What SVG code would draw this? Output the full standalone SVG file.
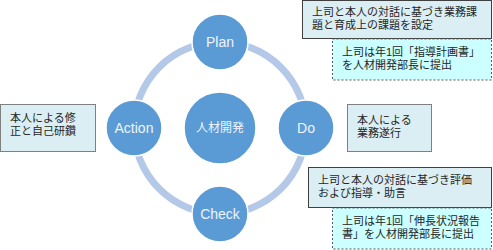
<svg xmlns="http://www.w3.org/2000/svg" width="493" height="250" viewBox="0 0 493 250">
<style>
.node circle{fill:#5b9bd5;stroke:#ffffff;stroke-width:1.5}
.lbl{font-family:"Liberation Sans","Noto Sans",sans-serif;font-size:14px;fill:#eef4fb;text-anchor:middle}
.clbl{font-family:"Liberation Sans","Noto Sans CJK JP",sans-serif;font-size:12px;fill:#eef4fb;text-anchor:middle}
.box{fill:#daeef3;stroke:#404040;stroke-width:1}
.gbox{fill:#daeef3;stroke:#808080;stroke-width:1}
.dbox{fill:#ccffff;stroke:#595959;stroke-width:1;stroke-dasharray:2 2}
.t{font-family:"Liberation Sans","Noto Sans CJK JP",sans-serif;font-size:11px;fill:#262626}
</style>
<g id="connectors">
<circle cx="220" cy="128" r="86" fill="none" stroke="#b4c8e8" stroke-width="7"/>
</g>
<g id="center" class="node"><circle cx="220" cy="128" r="36"/><text class="clbl" x="220" y="132">人材開発</text></g>
<g id="plan" class="node"><circle cx="220" cy="42" r="28"/><text class="lbl" x="220" y="47">Plan</text></g>
<g id="do" class="node"><circle cx="306" cy="128" r="28"/><text class="lbl" x="306" y="133">Do</text></g>
<g id="check" class="node"><circle cx="220" cy="214" r="28"/><text class="lbl" x="220" y="219">Check</text></g>
<g id="action" class="node"><circle cx="134" cy="128" r="28"/><text class="lbl" x="134" y="133">Action</text></g>
<g id="plan-note">
<rect class="box" x="302.5" y="0.5" width="189" height="38"/>
<text class="t" x="312" y="16">上司と本人の対話に基づき業務課</text>
<text class="t" x="312" y="29">題と育成上の課題を設定</text>
</g>
<g id="plan-note2">
<rect class="dbox" x="332.5" y="39" width="159" height="41"/>
<text class="t" x="342" y="56">上司は年1回「指導計画書」</text>
<text class="t" x="342" y="69">を人材開発部長に提出</text>
</g>
<g id="do-note">
<rect class="gbox" x="347.5" y="104.5" width="84" height="47"/>
<text class="t" x="357" y="124">本人による</text>
<text class="t" x="357" y="137">業務遂行</text>
</g>
<g id="action-note">
<rect class="gbox" x="0.5" y="104.5" width="95" height="47"/>
<text class="t" x="10" y="122">本人による修</text>
<text class="t" x="10" y="135">正と自己研鑽</text>
</g>
<g id="check-note">
<rect class="box" x="308.5" y="167.5" width="183" height="40"/>
<text class="t" x="318" y="184">上司と本人の対話に基づき評価</text>
<text class="t" x="318" y="197">および指導・助言</text>
</g>
<g id="check-note2">
<rect class="dbox" x="332.5" y="208" width="159" height="41"/>
<text class="t" x="342" y="225">上司は年1回「伸長状況報告</text>
<text class="t" x="342" y="238">書」を人材開発部長に提出</text>
</g>
</svg>
